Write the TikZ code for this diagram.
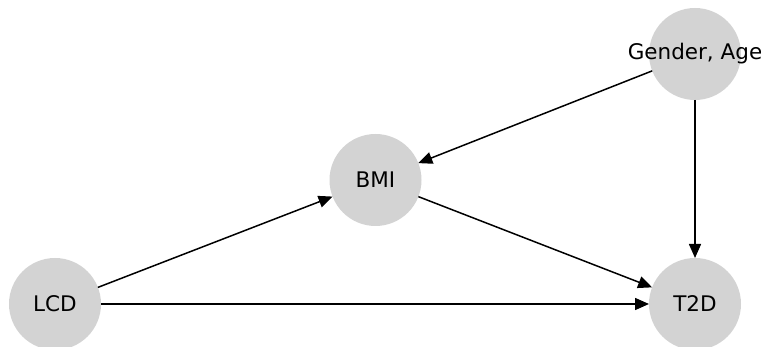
\documentclass[tikz,border=0pt]{standalone}
\usepackage{fontspec}
\setmainfont{DejaVu Sans}
\usetikzlibrary{arrows.meta}
\definecolor{nodegray}{RGB}{211,211,211}
\begin{document}
\begin{tikzpicture}[x=1pt,y=1pt,
  vnode/.style={circle,fill=nodegray,minimum size=92pt,inner sep=0pt,outer sep=0pt,
    label={[font=\fontsize{21.5}{25}\selectfont,inner sep=0pt]center:#1}},
  edge/.style={line width=1.5pt,-{Triangle[length=14pt,width=12pt]}}]
\useasboundingbox (0,0) rectangle (761,347);
\node[vnode={LCD}] (lcd) at (55,43) {};
\node[vnode={BMI}] (bmi) at (375.5,167) {};
\node[vnode={T2D}] (t2d) at (695,43) {};
\node[vnode={Gender, Age}] (ga) at (695,293) {};
\draw[edge] (lcd) -- (bmi);
\draw[edge] (lcd) -- (t2d);
\draw[edge] (bmi) -- (t2d);
\draw[edge] (ga) -- (bmi);
\draw[edge] (ga) -- (t2d);
\end{tikzpicture}
\end{document}
